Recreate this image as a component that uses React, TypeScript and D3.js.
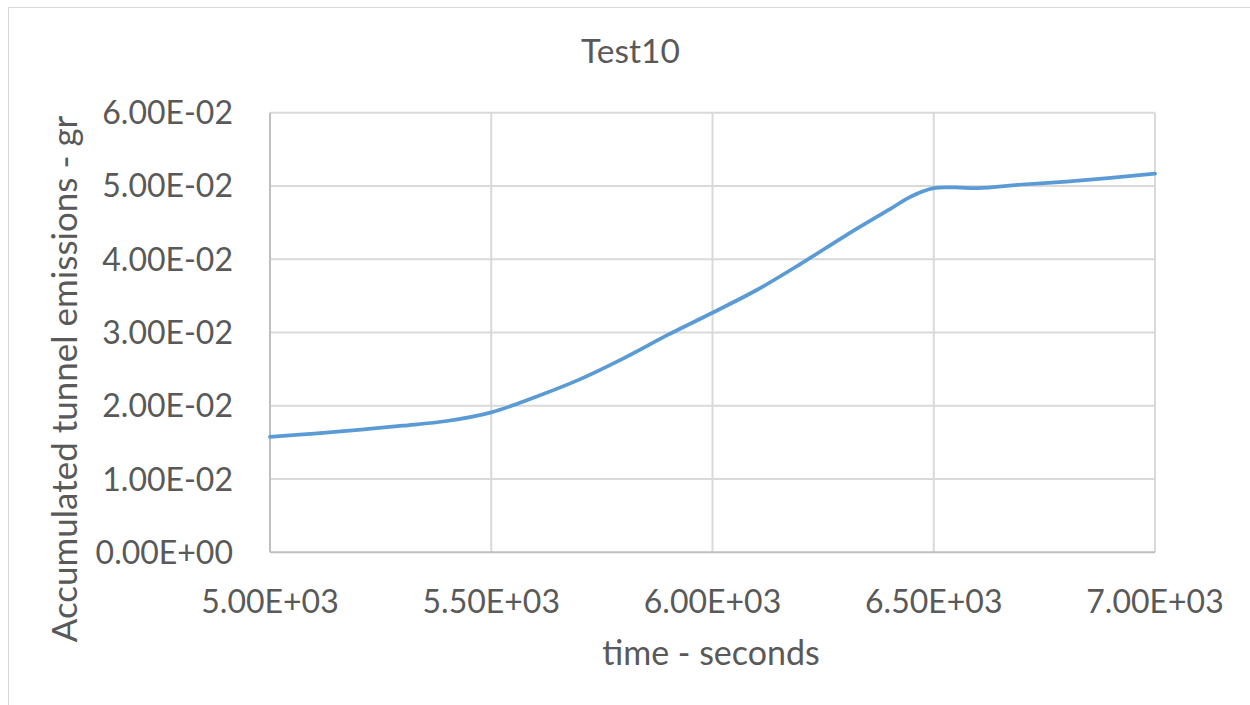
import React, { useRef, useEffect } from 'react';
import * as d3 from 'd3';

// time (s) and accumulated tunnel emissions (g)
const times = [5000, 5100, 5200, 5300, 5400, 5500, 5600, 5700, 5800, 5900, 6000, 6100, 6200, 6300, 6400, 6450, 6500, 6550, 6600, 6700, 6800, 6900, 7000];
const emissions = [0.01574, 0.01621, 0.01672, 0.01728, 0.01792, 0.0191, 0.0212, 0.0236, 0.0265, 0.0297, 0.0327, 0.0358, 0.0394, 0.0432, 0.0468, 0.0486, 0.0497, 0.0498, 0.0497, 0.0502, 0.0506, 0.0511, 0.0517];

const xTicks = [5000, 5500, 6000, 6500, 7000];
const yTicks = [0, 0.01, 0.02, 0.03, 0.04, 0.05, 0.06];

const title = 'Test10';
const xTitle = 'time - seconds';
const yTitle = 'Accumulated tunnel emissions - gr';

const width = 1250;
const height = 705;

// Excel-like scientific format: 5.00E+03
const sci = (v: number) => {
  const [m, e] = v.toExponential(2).split('e');
  const n = parseInt(e, 10);
  return `${m}E${n < 0 ? '-' : '+'}${String(Math.abs(n)).padStart(2, '0')}`;
};

const App: React.FC = () => {
  const svgRef = useRef<SVGSVGElement>(null);

  useEffect(() => {
    if (!svgRef.current) return;
    const svg = d3.select(svgRef.current);
    svg.selectAll('*').remove();

    const plot = { left: 270, right: 1155, top: 112.7, bottom: 552.3 };
    const font = 'Lato, "Open Sans", sans-serif';
    const textColor = '#595959';

    svg.append('rect')
      .attr('width', width)
      .attr('height', height)
      .attr('fill', '#ffffff');

    // chart border
    svg.append('rect')
      .attr('x', 8.5)
      .attr('y', 7.5)
      .attr('width', 1300)
      .attr('height', 800)
      .attr('fill', 'none')
      .attr('stroke', '#d9d9d9')
      .attr('stroke-width', 1);

    const x = d3.scaleLinear().domain([5000, 7000]).range([plot.left, plot.right]);
    const y = d3.scaleLinear().domain([0, 0.06]).range([plot.bottom, plot.top]);

    // gridlines
    svg.append('g')
      .selectAll('line')
      .data(yTicks.slice(1))
      .enter()
      .append('line')
      .attr('x1', plot.left)
      .attr('x2', plot.right)
      .attr('y1', d => y(d))
      .attr('y2', d => y(d))
      .attr('stroke', '#d9d9d9')
      .attr('stroke-width', 2);

    svg.append('g')
      .selectAll('line')
      .data(xTicks.slice(1))
      .enter()
      .append('line')
      .attr('x1', d => x(d))
      .attr('x2', d => x(d))
      .attr('y1', plot.top)
      .attr('y2', plot.bottom)
      .attr('stroke', '#d9d9d9')
      .attr('stroke-width', 2);

    // axis lines
    svg.append('line')
      .attr('x1', plot.left).attr('x2', plot.left)
      .attr('y1', plot.top).attr('y2', plot.bottom)
      .attr('stroke', '#bfbfbf').attr('stroke-width', 2);
    svg.append('line')
      .attr('x1', plot.left).attr('x2', plot.right)
      .attr('y1', plot.bottom).attr('y2', plot.bottom)
      .attr('stroke', '#bfbfbf').attr('stroke-width', 2);

    // tick labels
    svg.append('g')
      .selectAll('text')
      .data(yTicks)
      .enter()
      .append('text')
      .attr('x', 233)
      .attr('y', d => y(d))
      .attr('dy', '0.36em')
      .attr('text-anchor', 'end')
      .attr('font-family', font)
      .attr('font-size', 32)
      .attr('fill', textColor)
      .text(d => sci(d));

    svg.append('g')
      .selectAll('text')
      .data(xTicks)
      .enter()
      .append('text')
      .attr('x', d => x(d))
      .attr('y', 612.7)
      .attr('text-anchor', 'middle')
      .attr('font-family', font)
      .attr('font-size', 32)
      .attr('fill', textColor)
      .text(d => sci(d));

    // series
    const line = d3.line<number>()
      .x((_, i) => x(times[i]))
      .y(d => y(d))
      .curve(d3.curveCatmullRom);

    svg.append('path')
      .datum(emissions)
      .attr('fill', 'none')
      .attr('stroke', '#5b9bd5')
      .attr('stroke-width', 3.75)
      .attr('stroke-linecap', 'round')
      .attr('d', line);

    // titles
    svg.append('text')
      .attr('x', 630.5)
      .attr('y', 63.3)
      .attr('text-anchor', 'middle')
      .attr('font-family', font)
      .attr('font-size', 33.5)
      .attr('fill', textColor)
      .text(title);

    svg.append('text')
      .attr('x', 711)
      .attr('y', 665)
      .attr('text-anchor', 'middle')
      .attr('font-family', font)
      .attr('font-size', 34)
      .attr('fill', textColor)
      .text(xTitle);

    svg.append('text')
      .attr('transform', `translate(77, 379) rotate(-90)`)
      .attr('text-anchor', 'middle')
      .attr('font-family', font)
      .attr('font-size', 35)
      .attr('fill', textColor)
      .text(yTitle);
  }, []);

  return (
    <div style={{ position: 'fixed', left: 0, top: 0, width, height, background: '#fff' }}>
      <svg ref={svgRef} width={width} height={height} style={{ display: 'block' }} />
    </div>
  );
};

export default App;
